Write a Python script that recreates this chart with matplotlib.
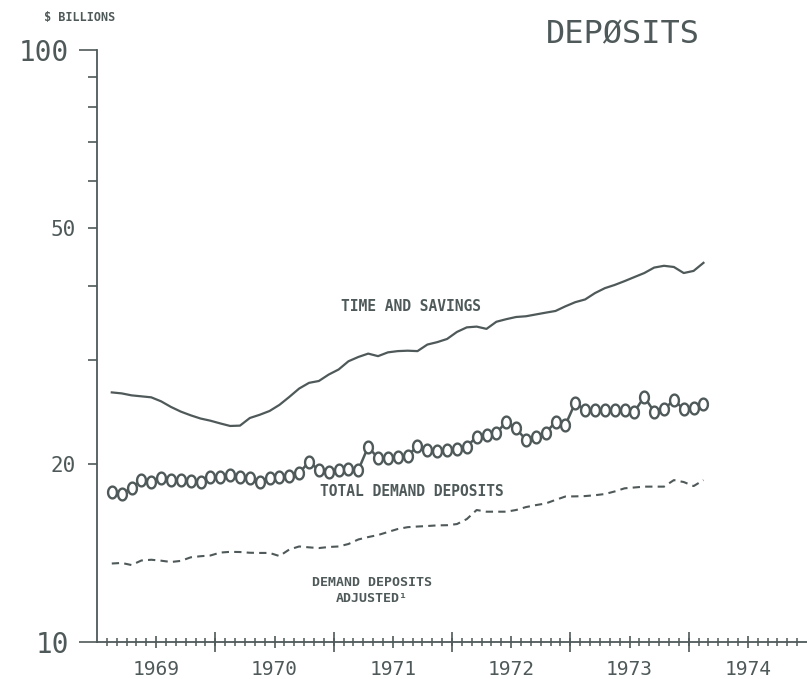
import numpy as np
import matplotlib.pyplot as plt
from matplotlib.ticker import FixedLocator, FixedFormatter
from matplotlib.path import Path

plt.rcParams['font.family'] = ['DejaVu Sans Mono', 'DejaVu Sans']

# monthly values, Feb 1969 .. Feb 1974, $ billions
time_savings = [26.4, 26.3, 26.1, 26.0, 25.9, 25.5, 24.95, 24.5, 24.15, 23.85, 23.65, 23.4,
                23.17, 23.2, 23.9, 24.2, 24.56, 25.15, 25.94, 26.8, 27.4, 27.6, 28.3, 28.86,
                29.8, 30.3, 30.7, 30.4, 30.85, 31.0, 31.05, 31.0, 31.8, 32.1, 32.5, 33.4,
                34.0, 34.1, 33.8, 34.75, 35.1, 35.4, 35.5, 35.75, 36.0, 36.24, 36.9, 37.5,
                37.9, 38.85, 39.6, 40.1, 40.7, 41.35, 42.0, 42.9, 43.2, 43.0, 42.0, 42.35,
                43.7]
total_demand = [17.9, 17.8, 18.2, 18.75, 18.65, 18.9, 18.77, 18.77, 18.72, 18.65, 19.0, 18.98,
                19.15, 18.98, 18.9, 18.65, 18.9, 19.02, 19.07, 19.28, 20.17, 19.52, 19.4, 19.52,
                19.57, 19.52, 21.38, 20.43, 20.43, 20.51, 20.62, 21.43, 21.1, 21.04, 21.1, 21.16,
                21.38, 22.23, 22.38, 22.53, 23.56, 22.96, 21.94, 22.23, 22.53, 23.56, 23.26, 25.36,
                24.66, 24.66, 24.66, 24.66, 24.66, 24.49, 25.96, 24.49, 24.73, 25.63, 24.73, 24.82,
                25.23]
demand_adjusted = [13.57, 13.6, 13.49, 13.73, 13.77, 13.72, 13.65, 13.71, 13.9, 13.96, 14.0, 14.16,
                   14.2, 14.19, 14.15, 14.14, 14.14, 13.97, 14.33, 14.5, 14.45, 14.41, 14.47, 14.5,
                   14.64, 14.9, 15.04, 15.16, 15.34, 15.52, 15.63, 15.67, 15.7, 15.74, 15.75, 15.82,
                   16.13, 16.71, 16.6, 16.6, 16.6, 16.71, 16.9, 17.03, 17.14, 17.38, 17.61, 17.62,
                   17.64, 17.7, 17.78, 17.96, 18.18, 18.24, 18.3, 18.3, 18.3, 18.77, 18.63, 18.34,
                   18.77]
years = [1969, 1970, 1971, 1972, 1973, 1974]

months = np.arange(len(total_demand))
x = years[0] + (months + 1.5) / 12

c = '#4f5959'

# tall "0" shaped marker like the plotter symbol
t = np.linspace(0, 2 * np.pi, 40)
oval = Path(np.column_stack([0.75 * np.cos(t), np.sin(t)]))

fig = plt.figure(figsize=(8.07, 6.79), dpi=100)
ax = fig.add_axes([97 / 807, 37 / 679, 1 - 97 / 807, 592 / 679])

ax.plot(x, time_savings, color=c, lw=1.6)
ax.plot(x, total_demand, color=c, lw=1.8, marker=oval, ms=8.5, mfc='white', mec=c, mew=1.7)
ax.plot(x, demand_adjusted, color=c, lw=1.5, ls=(0, (3.5, 2.5)))

ax.set_yscale('log')
ax.set_ylim(10, 100)
ax.set_xlim(years[0], years[-1] + 1)

# y axis: decades long, 20/50 labelled smaller
ax.yaxis.set_major_locator(FixedLocator([10, 100]))
ax.yaxis.set_major_formatter(FixedFormatter(['10', '100']))
ax.yaxis.set_minor_locator(FixedLocator([20, 30, 40, 50, 60, 70, 80, 90]))
ax.yaxis.set_minor_formatter(FixedFormatter(['20', '', '', '50', '', '', '', '']))
ax.tick_params(axis='y', which='major', direction='out', length=13, width=1.2, pad=7,
               labelsize=20, colors=c)
ax.tick_params(axis='y', which='minor', direction='out', length=6.5, width=1.2, pad=9,
               labelsize=15, colors=c)

# x axis: month ticks, labelled mid-year ticks, long year ticks
ax.xaxis.set_major_locator(FixedLocator([y + 0.5 for y in years]))
ax.xaxis.set_major_formatter(FixedFormatter([str(y) for y in years]))
ax.xaxis.set_minor_locator(FixedLocator(years[0] + np.arange(1, 72) / 12))
ax.tick_params(axis='x', which='major', direction='inout', length=8, width=1.2, pad=9,
               labelsize=14, colors=c)
ax.tick_params(axis='x', which='minor', direction='inout', length=5.5, width=1.1, colors=c)

sec = ax.secondary_xaxis('bottom')
sec.set_xticks(years[1:])
sec.tick_params(direction='inout', length=14, width=1.2, labelbottom=False, colors=c)
sec.spines['bottom'].set_visible(False)

for s in ['top', 'right']:
    ax.spines[s].set_visible(False)
for s in ['left', 'bottom']:
    ax.spines[s].set_color(c)
    ax.spines[s].set_linewidth(1.3)

fig.text(80 / 807, 1 - 17 / 679, '$ BILLIONS', ha='center', va='center',
         fontsize=8.5, fontweight='bold', color=c)
fig.text(623 / 807, 1 - 35 / 679, 'DEPØSITS', ha='center', va='center',
         fontsize=23, color=c)
fig.text(411 / 807, 1 - 307 / 679, 'TIME AND SAVINGS', ha='center', va='center',
         fontsize=10.5, fontweight='bold', color=c)
fig.text(412 / 807, 1 - 492 / 679, 'TOTAL DEMAND DEPOSITS', ha='center', va='center',
         fontsize=10.5, fontweight='bold', color=c)
fig.text(372 / 807, 1 - 590 / 679, 'DEMAND DEPOSITS\nADJUSTED¹', ha='center', va='center',
         fontsize=9.5, fontweight='bold', color=c, linespacing=1.3)

fig.savefig('out.png', dpi=100, facecolor='white')
